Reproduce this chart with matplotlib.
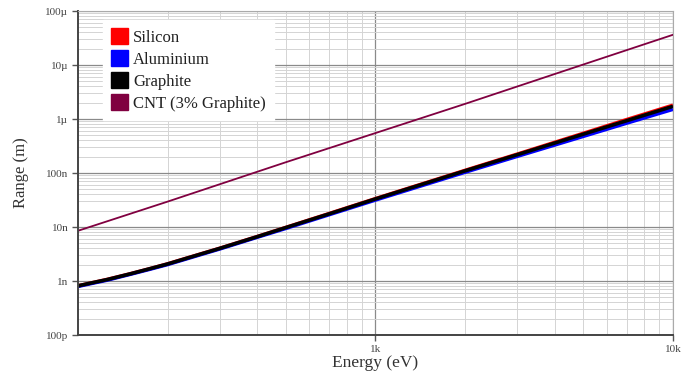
import matplotlib
matplotlib.use("Agg")
import matplotlib.pyplot as plt
from matplotlib.patches import Patch
from matplotlib.ticker import FixedLocator, FixedFormatter, NullFormatter
import numpy as np

# energies (eV) and log10 of range (m)
energy = [100, 110, 125, 150, 175, 200, 250, 300, 400, 500, 700, 1000, 2000, 3000, 5000, 7000, 10000]
silicon_log = [-9.09, -9.04, -8.973, -8.866, -8.77, -8.683, -8.523, -8.393, -8.178, -8.008, -7.75, -7.475, -6.952, -6.65, -6.265, -6.01, -5.745]
aluminium_log = [-9.10, -9.05, -8.985, -8.875, -8.78, -8.695, -8.535, -8.405, -8.19, -8.025, -7.77, -7.50, -6.985, -6.69, -6.32, -6.075, -5.82]
graphite_log = [-9.09, -9.04, -8.975, -8.867, -8.77, -8.685, -8.525, -8.395, -8.18, -8.01, -7.755, -7.48, -6.96, -6.66, -6.28, -6.03, -5.765]

cnt_energy = [100, 200, 500, 1000, 2000, 5000, 10000]
cnt_log = [-8.07, -7.53, -6.80, -6.26, -5.72, -4.99, -4.44]

ytick_vals = [1e-10, 1e-9, 1e-8, 1e-7, 1e-6, 1e-5, 1e-4]
ytick_labels = ["100p", "1n", "10n", "100n", "1\u00b5", "10\u00b5", "100\u00b5"]
xtick_vals = [1000, 10000]
xtick_labels = ["1k", "10k"]

names = ["Silicon", "Aluminium", "Graphite", "CNT (3% Graphite)"]
colors = ["#ff0000", "#0000ff", "#000000", "#800040"]

plt.rcParams["font.family"] = ["Liberation Serif", "DejaVu Serif"]

fig = plt.figure(figsize=(6.94, 3.77), dpi=100)
ax = fig.add_axes([0.1124, 0.1114, 0.8573, 0.8594])

ax.set_xscale("log")
ax.set_yscale("log")
ax.set_xlim(100, 10000)
ax.set_ylim(1e-10, 1e-4)

# grid
ax.xaxis.set_minor_locator(FixedLocator([m * 10**d for d in (2, 3) for m in range(2, 10)]))
ax.yaxis.set_minor_locator(FixedLocator([m * 10.0**d for d in range(-10, -4) for m in range(2, 10)]))
ax.grid(which="minor", color="#d4d4d4", linewidth=0.7)
ax.grid(which="major", color="#8a8a8a", linewidth=0.9)
ax.set_axisbelow(True)

for vals, c in zip([silicon_log, aluminium_log, graphite_log], colors[:3]):
    ax.plot(energy, 10 ** np.array(vals), color=c, linewidth=2.6, solid_capstyle="butt")
ax.plot(cnt_energy, 10 ** np.array(cnt_log), color=colors[3], linewidth=1.3)

ax.yaxis.set_major_locator(FixedLocator(ytick_vals))
ax.yaxis.set_major_formatter(FixedFormatter(ytick_labels))
ax.yaxis.set_minor_formatter(NullFormatter())
ax.xaxis.set_major_locator(FixedLocator(xtick_vals))
ax.xaxis.set_major_formatter(FixedFormatter(xtick_labels))
ax.xaxis.set_minor_formatter(NullFormatter())
ax.tick_params(which="major", length=4, width=1, color="#555555", labelsize=8, labelcolor="#444444", pad=3)
ax.tick_params(which="minor", length=0)

for s in ["left", "bottom"]:
    ax.spines[s].set_color("#444444")
    ax.spines[s].set_linewidth(1.4)
for s in ["top", "right"]:
    ax.spines[s].set_color("#aaaaaa")
    ax.spines[s].set_linewidth(0.8)

ax.set_xlabel("Energy (eV)", fontsize=12.5, color="#333333", labelpad=1)
ax.set_ylabel("Range (m)", fontsize=12, color="#333333", labelpad=12)

handles = [Patch(facecolor=c, edgecolor=c) for c in colors]
leg = ax.legend(handles, names, loc="upper left", bbox_to_anchor=(0.042, 0.972),
                fontsize=12, frameon=True, fancybox=False, framealpha=1,
                edgecolor="white", handlelength=1.0, handleheight=1.1,
                handletextpad=0.3, labelspacing=0.25, borderpad=0.5, borderaxespad=0)
for t in leg.get_texts():
    t.set_color("#222222")

fig.savefig("out.png", dpi=100)
